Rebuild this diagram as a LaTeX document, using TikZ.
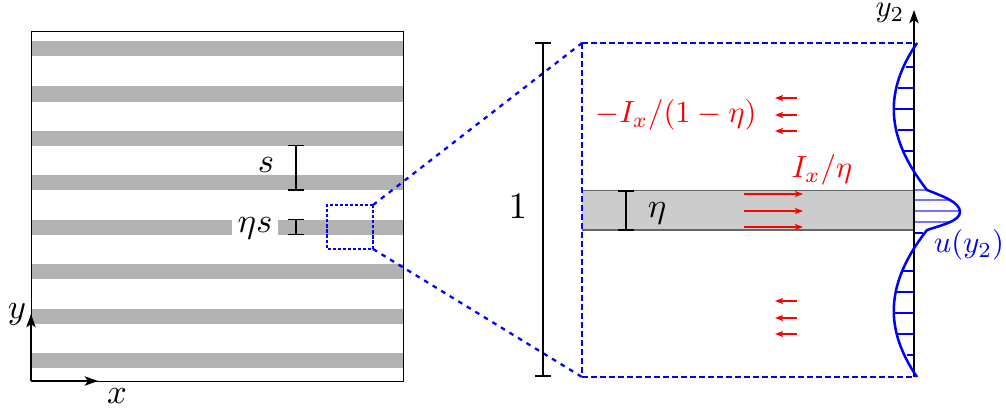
\documentclass[tikz,border=0pt]{standalone}
\usetikzlibrary{arrows.meta,calc}
\tikzset{
  dimline/.style={draw=black,line width=0.8pt},
  dimcap/.style={draw=black,line width=1.1pt},
  zoomline/.style={draw=blue,line width=1.8pt,dash pattern=on 4.5pt off 2.25pt},
  zoomdiag/.style={draw=blue,line width=1.7pt,dash pattern=on 3.5pt off 4pt},
  smallbox/.style={draw=blue,line width=0.78pt,dash pattern=on 2.4pt off 1.4pt},
  axisline/.style={draw=black,line width=1.1pt,-{Stealth[length=10pt,width=7pt,inset=2.5pt]}},
  redarrow/.style={draw=red,line width=0.8pt,-{Stealth[length=6pt,width=4.5pt,inset=1.2pt]}},
  hatch/.style={draw=blue,line width=0.78pt},
  hatchlight/.style={draw=blue!55,line width=0.8pt},
  biglab/.style={scale=2.6,inner sep=0pt},
  midlab/.style={scale=2.3,inner sep=0pt},
}
\begin{document}
\begin{tikzpicture}[x=0.75pt,y=-0.75pt]
\useasboundingbox (0,0) rectangle (1006,410);
% left panel
\coordinate (lb1) at (31,31); \coordinate (lb2) at (403,381);
\draw[line width=0.6pt] (lb1) rectangle (lb2);
\foreach \yy in {49,94,138,182,227,271,316,360}
  \fill[black!30] (31.5,\yy-7.5) rectangle (402.5,\yy+7.5);
\node[fill=white,minimum width=46*0.75pt,minimum height=16*0.75pt,inner sep=0pt] (gap) at (255,227) {};
\node[biglab] (etas) at (255,228) {$\eta s$};
\node[biglab] (s) at (266,165) {$s$};
% s dim
\coordinate (s1) at (296,145.5); \coordinate (s2) at (296,190);
\draw[dimline] (s1) -- (s2);
\draw[dimcap] ($(s1)+(-8,0)$) -- ($(s1)+(8,0)$) ($(s2)+(-8,0)$) -- ($(s2)+(8,0)$);
\coordinate (es1) at (296,219.5); \coordinate (es2) at (296,234.5);
\draw[dimline] (es1) -- (es2);
\draw[dimcap] ($(es1)+(-8,0)$) -- ($(es1)+(8,0)$) ($(es2)+(-8,0)$) -- ($(es2)+(8,0)$);
% axes
\coordinate (o) at (31,381); \coordinate (ax) at (98,381); \coordinate (ay) at (31,314);
\draw[axisline] (o) -- (ax);
\draw[axisline] (o) -- (ay);
\node[biglab] (xl) at (117,396) {$x$};
\node[biglab] (yl) at (17,314) {$y$};
% small dashed box
\coordinate (a1) at (373,205); \coordinate (a2) at (373,249); \coordinate (a3) at (327,249); \coordinate (a4) at (327,205);
\draw[smallbox] (a1) -- (a2) -- (a3) -- (a4) -- cycle;
% right rectangle
\fill[black!20] (582,190.5) rectangle (914,230);
\draw[black!60,line width=1pt] (582,190.5) -- (914,190.5) (582,230) -- (914,230);
% big dashed
\coordinate (b1) at (582,43); \coordinate (b2) at (914,43); \coordinate (b3) at (914,377); \coordinate (b4) at (582,377);
\draw[zoomdiag] (a1) -- (b1);
\draw[zoomdiag] (a2) -- (b4);
\draw[zoomline] (b1) -- (b2);
\draw[zoomline] (b4) -- (b3);
\draw[zoomline] (b1) -- (b4);
\draw[zoomline] (b2) -- (b3);
% 1 dim
\coordinate (o1) at (543,43); \coordinate (o2) at (543,376);
\draw[dimline] (o1) -- (o2);
\draw[dimcap] ($(o1)+(-8,0)$) -- ($(o1)+(8,0)$) ($(o2)+(-8,0)$) -- ($(o2)+(8,0)$);
\node[biglab,scale=1.07] (one) at (518,207) {$1$};
% eta dim
\coordinate (e1) at (626,191); \coordinate (e2) at (626,230);
\draw[dimline] (e1) -- (e2);
\draw[dimcap] ($(e1)+(-8,0)$) -- ($(e1)+(8,0)$) ($(e2)+(-8,0)$) -- ($(e2)+(8,0)$);
\node[biglab] (eta) at (657,213) {$\eta$};
% red arrows
\foreach \yy in {98,115,131,301,318,334}
  \draw[redarrow] (797,\yy) -- (775,\yy);
\foreach \yy in {194,211,227}
  \draw[redarrow] (744,\yy) -- (803,\yy);
\node[midlab,text=red] (il) at (676,115) {$-I_x/(1-\eta)$};
\node[midlab,text=red] (ir) at (822,170) {$I_x/\eta$};
% hatches
\foreach \yy/\xx in {67/906,88/898,109/894,130/898,151/903,271/903,292/897,313/894,334/898,355/907}
  \draw[hatch] (914,\yy) -- (\xx,\yy);
\foreach \yy/\xx in {190/927,200/950,211/959,222/950}
  \draw[hatchlight] (914,\yy) -- (\xx,\yy);
\draw[hatch] (914,233) -- (923,233);
% axis y2
\coordinate (y0) at (914,377); \coordinate (y1) at (914,10);
\draw[axisline] (y0) -- (y1);
\node[scale=2.3,inner sep=0pt,anchor=base] (y2l) at (890,17) {$y_2$};
% profile
\draw[blue,line width=1.9pt,line join=round] (917,43) .. controls (885,90) and (884,135) .. (927,190)
  .. controls (942,196) and (960,202) .. (960,212)
  .. controls (960,221) and (942,225) .. (927,230)
  .. controls (884,285) and (885,330) .. (917,377);
\node[midlab,text=blue] (ul) at (969,245) {$u(y_2)$};
\end{tikzpicture}
\end{document}
